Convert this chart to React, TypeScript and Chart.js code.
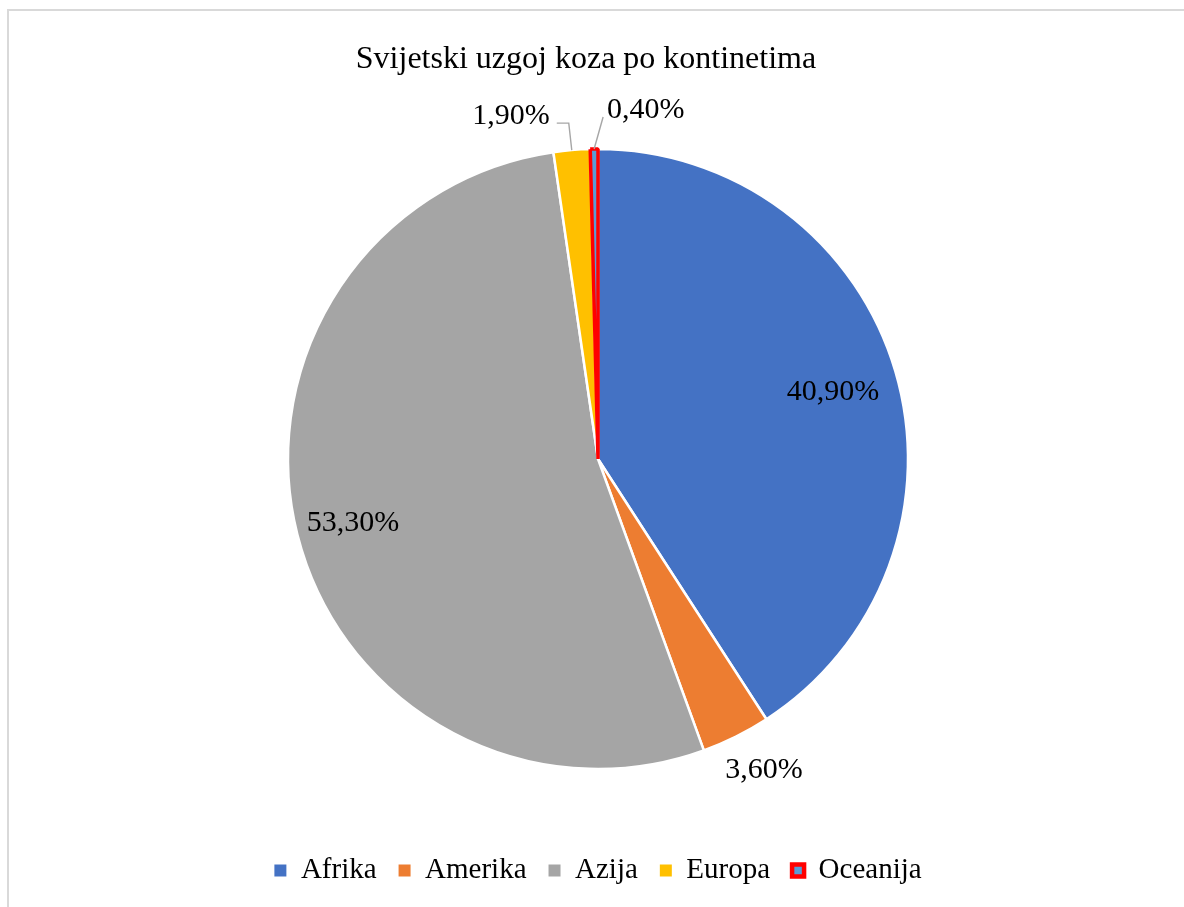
import React, { useEffect, useRef } from "react";
import { Chart, registerables } from "chart.js";

Chart.register(...registerables);

const TITLE = "Svijetski uzgoj koza po kontinetima";
const categories = ["Afrika", "Amerika", "Azija", "Europa", "Oceanija"];
const shares = [40.9, 3.6, 53.3, 1.9, 0.4];
const fillColors = ["#4472c4", "#ed7d31", "#a5a5a5", "#ffc000", "#5b9bd5"];
const edgeColors = ["#ffffff", "#ffffff", "#ffffff", "#ffffff", "#ff0000"];
const edgeWidths = [2.5, 2.5, 2.5, 2.5, 3.5];

const FONT = '"Liberation Serif", "Times New Roman", serif';

type Placement =
  | { kind: "radial"; f: number }
  | { kind: "offset"; dx: number; dy: number; align: CanvasTextAlign; line?: number[][] };

// label placement (style only)
const placements: Placement[] = [
  { kind: "radial", f: 0.79 },
  { kind: "offset", dx: 28, dy: 31, align: "center" },
  { kind: "radial", f: 0.815 },
  { kind: "offset", dx: -22, dy: -36.5, align: "right", line: [[-3, -27], [-15, -27]] },
  { kind: "offset", dx: 13, dy: -41, align: "left", line: [[9, -32]] },
];

const fmt = (v: number) => v.toFixed(2).replace(".", ",") + "%";

const titlePlugin = {
  id: "customTitle",
  afterDraw(chart: any) {
    const ctx = chart.ctx;
    ctx.save();
    ctx.font = `32px ${FONT}`;
    ctx.fillStyle = "#000";
    ctx.textAlign = "center";
    ctx.textBaseline = "alphabetic";
    ctx.fillText(TITLE, 586, 68);
    ctx.restore();
  },
};

const labelPlugin = {
  id: "sliceLabels",
  afterDatasetsDraw(chart: any) {
    const meta = chart.getDatasetMeta(0);
    const ctx = chart.ctx;
    const size = 30;
    ctx.save();
    ctx.font = `${size}px ${FONT}`;
    ctx.fillStyle = "#000";
    ctx.textBaseline = "alphabetic";
    meta.data.forEach((arc: any, i: number) => {
      const { x, y, startAngle, endAngle, outerRadius } = arc.getProps(
        ["x", "y", "startAngle", "endAngle", "outerRadius"],
        true
      );
      const mid = (startAngle + endAngle) / 2;
      const text = fmt(shares[i]);
      const p = placements[i];
      const half = size * 0.338;
      if (p.kind === "radial") {
        const r = outerRadius * p.f;
        ctx.textAlign = "center";
        ctx.fillText(text, x + Math.cos(mid) * r, y + Math.sin(mid) * r + half);
      } else {
        const sx = x + Math.cos(mid) * outerRadius;
        const sy = y + Math.sin(mid) * outerRadius;
        if (p.line) {
          ctx.save();
          ctx.strokeStyle = "#a6a6a6";
          ctx.lineWidth = 1.4;
          ctx.beginPath();
          ctx.moveTo(sx, sy);
          p.line.forEach(([lx, ly]) => ctx.lineTo(sx + lx, sy + ly));
          ctx.stroke();
          ctx.restore();
        }
        ctx.textAlign = p.align;
        ctx.fillText(text, sx + p.dx, sy + p.dy + half);
      }
    });
    ctx.restore();
  },
};

export default function App() {
  const ref = useRef<HTMLCanvasElement | null>(null);

  useEffect(() => {
    if (!ref.current) return;
    const chart = new Chart(ref.current, {
      type: "pie",
      data: {
        labels: categories,
        datasets: [
          {
            data: shares,
            backgroundColor: fillColors,
            borderColor: edgeColors,
            borderWidth: edgeWidths,
            radius: 310,
          } as any,
        ],
      },
      options: {
        responsive: false,
        animation: false,
        devicePixelRatio: 1,
        events: [],
        layout: { padding: { top: 84, bottom: 12, left: 12, right: 0 } },
        plugins: {
          title: { display: false },
          tooltip: { enabled: false },
          legend: {
            display: true,
            position: "bottom",
            labels: {
              color: "#000",
              font: { family: FONT, size: 29 },
              boxWidth: 12,
              boxHeight: 12,
              padding: 22,
              generateLabels: (c: any) => {
                const base = (Chart as any).overrides.pie.plugins.legend.labels.generateLabels(c);
                return base.map((item: any, i: number) => ({
                  ...item,
                  lineWidth: i === 4 ? 4.5 : 0,
                  strokeStyle: edgeColors[i],
                }));
              },
            },
          },
        },
      },
      plugins: [labelPlugin, titlePlugin],
    });
    return () => chart.destroy();
  }, []);

  return (
    <div style={{ position: "fixed", left: 0, top: 0, width: 1184, height: 907, overflow: "hidden", background: "#fff" }}>
      <div
        style={{
          position: "absolute",
          left: 7,
          top: 9,
          width: 1300,
          height: 1000,
          borderLeft: "2px solid #d9d9d9",
          borderTop: "2px solid #d9d9d9",
        }}
      />
      <canvas ref={ref} width={1184} height={907} style={{ position: "absolute", left: 0, top: 0 }} />
    </div>
  );
}
